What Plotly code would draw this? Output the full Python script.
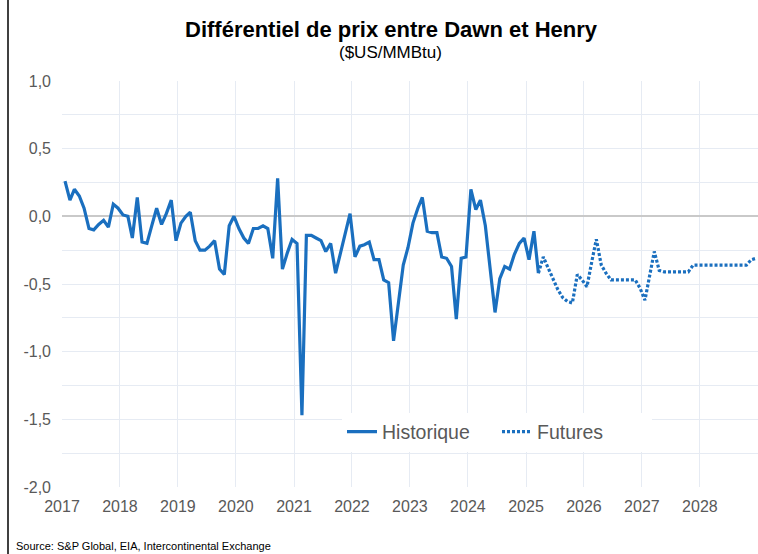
import plotly.graph_objects as go
import pandas as pd

# Historical monthly differential (Jan 2017 - Mar 2025), $US/MMBtu
hist_values = [
    0.26, 0.12, 0.20, 0.15, 0.06, -0.09, -0.10, -0.06, -0.03, -0.08, 0.09, 0.06,
    0.01, 0.00, -0.16, 0.14, -0.19, -0.20, -0.07, 0.06, -0.06, 0.02, 0.12, -0.18,
    -0.05, 0.00, 0.03, -0.18, -0.25, -0.25, -0.22, -0.18, -0.39, -0.43, -0.07, 0.00,
    -0.09, -0.16, -0.20, -0.09, -0.09, -0.07, -0.09, -0.31, 0.28, -0.39, -0.27, -0.17,
    -0.20, -1.47, -0.14, -0.14, -0.16, -0.18, -0.26, -0.20, -0.42, -0.28, -0.12, 0.02,
    -0.30, -0.22, -0.21, -0.19, -0.32, -0.32, -0.47, -0.49, -0.92, -0.63, -0.36, -0.23,
    -0.05, 0.06, 0.14, -0.11, -0.12, -0.12, -0.30, -0.31, -0.37, -0.76, -0.31, -0.30,
    0.20, 0.05, 0.12, -0.07, -0.39, -0.71, -0.46, -0.37, -0.39, -0.28, -0.20, -0.16,
    -0.32, -0.11, -0.42,
]
hist_start = "2017-01-01"

# Futures (Mar 2025 - Dec 2028)
fut_values = [
    -0.42, -0.30, -0.38, -0.46, -0.54, -0.60, -0.63, -0.64, -0.43, -0.47,
    -0.52, -0.33, -0.17, -0.36, -0.42, -0.47, -0.47, -0.47, -0.47, -0.47, -0.47, -0.53,
    -0.62, -0.43, -0.26, -0.40, -0.41, -0.41, -0.41, -0.41, -0.41, -0.41, -0.36, -0.36,
    -0.36, -0.36, -0.36, -0.36, -0.36, -0.36, -0.36, -0.36, -0.36, -0.36, -0.32, -0.31,
]
fut_start = "2025-03-01"
day_offset = pd.Timedelta(days=19)

y_tickvals = [1.0, 0.75, 0.5, 0.25, 0.0, -0.25, -0.5, -0.75, -1.0, -1.25, -1.5, -1.75, -2.0]
y_ticktext = ["1,0", "", "0,5", "", "0,0", "", "-0,5", "", "-1,0", "", "-1,5", "", "-2,0"]
x_years = [str(y) for y in range(2017, 2029)]

hist_dates = pd.date_range(hist_start, periods=len(hist_values), freq="MS") + day_offset
fut_dates = pd.date_range(fut_start, periods=len(fut_values), freq="MS") + day_offset

BLUE = "#1a6fbf"
FONT = "Arial, Liberation Sans, sans-serif"

fig = go.Figure()
fig.add_trace(go.Scatter(x=hist_dates, y=hist_values, mode="lines", name="Historique",
                         line=dict(color=BLUE, width=3.2)))
fig.add_trace(go.Scatter(x=fut_dates, y=fut_values, mode="lines", name="Futures",
                         line=dict(color=BLUE, width=3.2, dash="3px,2px")))

L, R, T, B = 62, 0, 81, 67
W, H = 758, 554
pw, ph = W - L - R, H - T - B

def px_x(x):
    return (x - L) / pw

def px_y(y):
    return (H - B - y) / ph

fig.update_layout(
    width=W, height=H,
    margin=dict(l=L, r=R, t=T, b=B),
    paper_bgcolor="white", plot_bgcolor="white",
    font=dict(family=FONT, color="#595959"),
    showlegend=True,
    legend=dict(orientation="h", x=px_x(342), y=px_y(432), xanchor="left", yanchor="middle",
                bgcolor="white", font=dict(size=19.5, color="#595959"),
                itemwidth=30, tracegroupgap=0, entrywidth=110, entrywidthmode="pixels"),
    xaxis=dict(
        type="date",
        range=["2017-01-01", "2029-01-01"],
        tickvals=[f"{y}-01-01" for y in x_years],
        ticktext=x_years,
        showgrid=True, gridcolor="#e6ebf3", gridwidth=1,
        zeroline=False, showline=False,
        tickfont=dict(size=16, color="#595959"),
        ticks="", ticklabelstandoff=8,
    ),
    yaxis=dict(
        range=[-2.0, 1.0],
        tickvals=y_tickvals, ticktext=y_ticktext,
        showgrid=True, gridcolor="#e6ebf3", gridwidth=1,
        zeroline=True, zerolinecolor="#c9c9c9", zerolinewidth=1.5,
        showline=False,
        tickfont=dict(size=16, color="#595959"),
        ticks="", ticklabelstandoff=10,
    ),
    annotations=[
        dict(text="<b>Différentiel de prix entre Dawn et Henry</b>", xref="paper", yref="paper",
             x=px_x(391), y=px_y(30), xanchor="center", yanchor="middle", showarrow=False,
             font=dict(size=22, color="#000000", family=FONT)),
        dict(text="($US/MMBtu)", xref="paper", yref="paper",
             x=px_x(390), y=px_y(52), xanchor="center", yanchor="middle", showarrow=False,
             font=dict(size=17, color="#000000", family=FONT)),
        dict(text="Source: S&P Global, EIA, Intercontinental Exchange", xref="paper", yref="paper",
             x=px_x(14), y=px_y(546), xanchor="left", yanchor="middle", showarrow=False,
             font=dict(size=11, color="#000000", family=FONT)),
    ],
    shapes=[
        dict(type="line", xref="paper", yref="paper", x0=px_x(8), x1=px_x(8),
             y0=px_y(0), y1=px_y(554), line=dict(color="#000000", width=1.5)),
    ],
)

fig.write_html("out.html", config={"displayModeBar": False},
               post_script="document.body.style.margin='0px';document.body.style.overflow='hidden';")
